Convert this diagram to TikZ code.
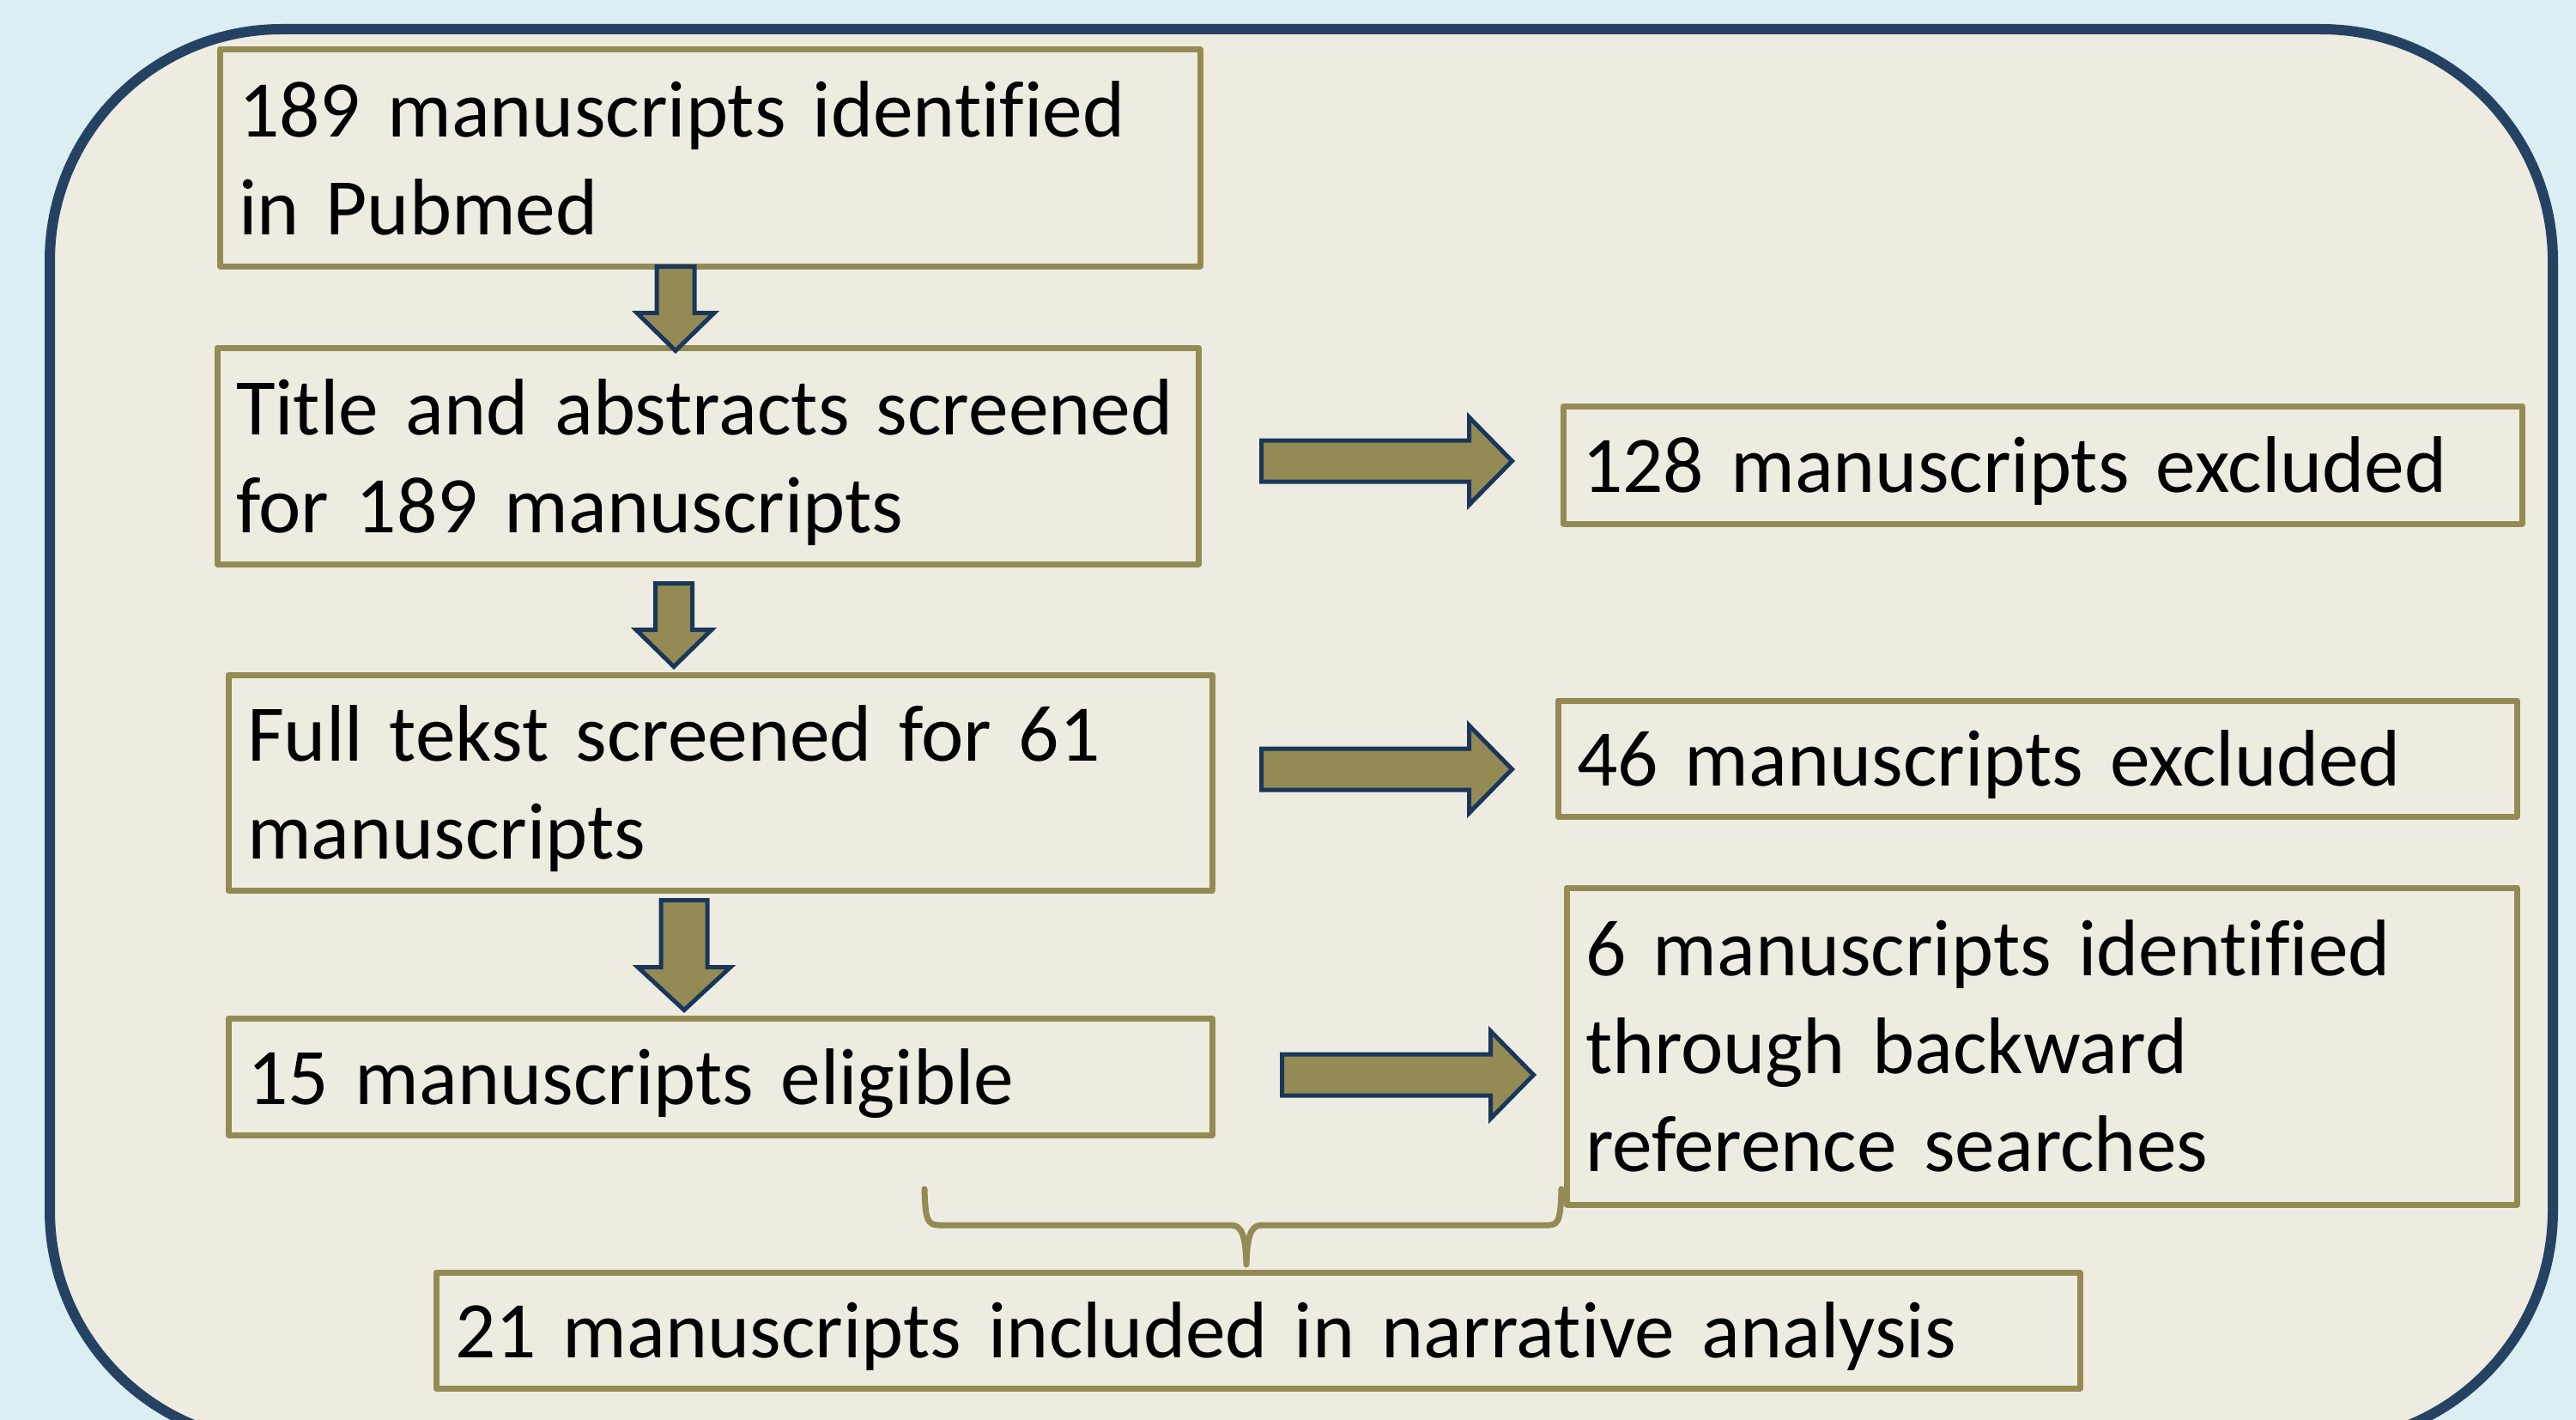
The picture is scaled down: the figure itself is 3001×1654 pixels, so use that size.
\documentclass[tikz,border=0pt]{standalone}
\usepackage{fontspec}
\setmainfont{Carlito}[Ligatures=NoCommon]
\usetikzlibrary{calc}

\definecolor{skyback}{HTML}{DAEEF3}
\definecolor{panelfill}{HTML}{EEECE1}
\definecolor{panelline}{HTML}{264263}
\definecolor{boxline}{HTML}{948A54}
\definecolor{arrowline}{HTML}{1A365A}

% a text line whose descenders do not count for centring
\newcommand\flatline[1]{\raisebox{0pt}[\height][0pt]{#1}}

% block arrow pointing down: #1 start, #2 tip, #3 half shaft, #4 half head, #5 head length
\newcommand\blockdown[5]{%
  \path[blockarrow] let \p1=(#1), \p2=(#2) in
    (\x1-#3,\y1) -- (\x1+#3,\y1) -- (\x1+#3,\y2+#5) -- (\x1+#4,\y2+#5)
    -- (\x1,\y2) -- (\x1-#4,\y2+#5) -- (\x1-#3,\y2+#5) -- cycle;}
% block arrow pointing right: same arguments
\newcommand\blockright[5]{%
  \path[blockarrow] let \p1=(#1), \p2=(#2) in
    (\x1,\y1+#3) -- (\x2-#5,\y1+#3) -- (\x2-#5,\y1+#4) -- (\x2,\y1)
    -- (\x2-#5,\y1-#4) -- (\x2-#5,\y1-#3) -- (\x1,\y1-#3) -- cycle;}

\begin{document}
\begin{tikzpicture}[x=1pt,y=-1pt,
  stage/.style={draw=boxline, line width=7pt, line join=round, rectangle,
    inner xsep=22pt, inner ysep=0pt, align=left, text=black,
    font=\fontsize{93.5}{114}\selectfont},
  blockarrow/.style={fill=boxline, draw=arrowline, line width=5pt, line join=miter},
  bracket/.style={draw=boxline, line width=7pt, line cap=round, line join=round}]

% page and background panel
\useasboundingbox (0,0) rectangle (3001,1654);
\clip (0,0) rectangle (3001,1654);
\fill[skyback] (0,0) rectangle (3001,1654);
\draw[panelline, fill=panelfill, line width=12pt, rounded corners=270pt]
  (58,34) rectangle (2974,1680);

% left column
\node[stage, minimum width=1142pt, minimum height=252pt, text width=1098pt]
  (b1) at (827,184) {\mbox{189 manuscripts identified}\\\flatline{in Pubmed}};
\node[stage, minimum width=1143pt, minimum height=252pt, text width=1099pt]
  (b2) at (824.5,531) {\mbox{Title and abstracts screened}\\\flatline{for 189 manuscripts}};
\node[stage, minimum width=1146pt, minimum height=251pt, text width=1102pt]
  (b3) at (839,911.5) {\mbox{Full tekst screened for 61}\\\flatline{manuscripts}};
\node[stage, minimum width=1146pt, minimum height=136pt, text width=1102pt]
  (b4) at (839,1254) {\flatline{15 manuscripts eligible}};

% right column
\node[stage, minimum width=1117pt, minimum height=137pt, text width=1073pt]
  (r1) at (2379.5,541.5) {\flatline{128 manuscripts excluded}};
\node[stage, minimum width=1117pt, minimum height=135pt, text width=1073pt]
  (r2) at (2373.5,883.5) {\flatline{46 manuscripts excluded}};
\node[stage, minimum width=1107pt, minimum height=369pt, text width=1063pt]
  (r3) at (2378.5,1218.5) {\mbox{6 manuscripts identified}\\\mbox{through backward}\\\flatline{reference searches}};

% result
\node[stage, minimum width=1915pt, minimum height=135pt, text width=1871pt]
  (fin) at (1465.5,1549.5) {\flatline{21 manuscripts included in narrative analysis}};

% arrow end points
\coordinate (a1s) at ([xshift=-40pt,yshift=3pt]b1.south);
\coordinate (a1e) at ([xshift=-37.5pt,yshift=-7pt]b2.north);
\coordinate (a2s) at ([xshift=-39.5pt,yshift=-19pt]b2.south);
\coordinate (a2e) at ([xshift=-54pt,yshift=6pt]b3.north);
\coordinate (a3s) at ([xshift=-42pt,yshift=-8pt]b3.south);
\coordinate (a3e) at ([xshift=-42pt,yshift=6pt]b4.north);
\coordinate (h1s) at ([xshift=70pt,yshift=-6pt]b2.east);
\coordinate (h1e) at ([xshift=-56pt]r1.west);
\coordinate (h2s) at ([xshift=54pt,yshift=15.5pt]b3.east);
\coordinate (h2e) at ([xshift=-50pt]r2.west);
\coordinate (h3s) at ([xshift=78pt,yshift=2pt]b4.east);
\coordinate (h3e) at ([xshift=-35pt]r3.west);

% downward flow
\blockdown{a1s}{a1e}{22pt}{45pt}{44pt}
\blockdown{a2s}{a2e}{21.5pt}{44pt}{43pt}
\blockdown{a3s}{a3e}{27pt}{54pt}{50pt}

% exclusions and additions
\blockright{h1s}{h1e}{24pt}{51pt}{50pt}
\blockright{h2s}{h2e}{24pt}{51pt}{50pt}
\blockright{h3s}{h3e}{24pt}{51pt}{50pt}

% brace joining eligible and added manuscripts
\coordinate (brL) at (1077,1385);
\coordinate (brTip) at (1452,1473);
\coordinate (brR) at (1819,1385);
\draw[bracket] (brL) .. controls (1078,1420) and (1080,1427) .. (1094,1427)
  -- (1434,1427) .. controls (1447,1427) and (1451,1440) .. (brTip)
  .. controls (1453,1440) and (1457,1427) .. (1470,1427)
  -- (1804,1427) .. controls (1816,1427) and (1818,1420) .. (brR);
\end{tikzpicture}
\end{document}
